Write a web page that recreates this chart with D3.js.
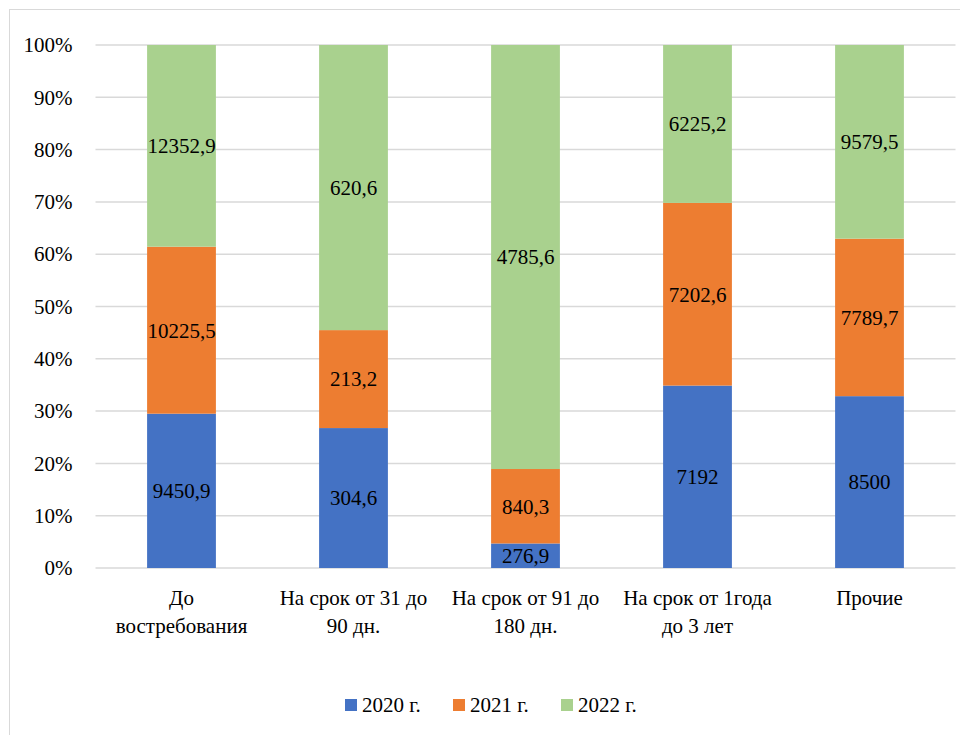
<!DOCTYPE html>
<html>
<head>
<meta charset="utf-8">
<script src="https://cdn.jsdelivr.net/npm/d3@7"></script>
<style>
  body { margin: 0; background: #fff; }
</style>
</head>
<body>
<div id="chart"></div>
<script>
'use strict';

// categories (already split into lines as in the original)
const categories = ['До востребования', 'На срок от 31 до 90 дн.', 'На срок от 91 до 180 дн.', 'На срок от 1года до 3 лет', 'Прочие'];
const categoryLines = [
  ['До', 'востребования'],
  ['На срок от 31 до', '90 дн.'],
  ['На срок от 91 до', '180 дн.'],
  ['На срок от 1года', 'до 3 лет'],
  ['Прочие']
];
const seriesNames = ['2020 г.', '2021 г.', '2022 г.'];
const values2020 = [9450.9, 304.6, 276.9, 7192, 8500];
const values2021 = [10225.5, 213.2, 840.3, 7202.6, 7789.7];
const values2022 = [12352.9, 620.6, 4785.6, 6225.2, 9579.5];
const labels2020 = ['9450,9', '304,6', '276,9', '7192', '8500'];
const labels2021 = ['10225,5', '213,2', '840,3', '7202,6', '7789,7'];
const labels2022 = ['12352,9', '620,6', '4785,6', '6225,2', '9579,5'];
const yTicks = [0, 0.1, 0.2, 0.3, 0.4, 0.5, 0.6, 0.7, 0.8, 0.9, 1];

const colors = ['#4472C4', '#ED7D31', '#A9D18E'];
const allValues = [values2020, values2021, values2022];
const allLabels = [labels2020, labels2021, labels2022];

const font = '"Liberation Serif", Tinos, "Nimbus Roman", FreeSerif, Times, serif';
const fontSize = 21;

const width = 960, height = 735;
const margin = {top: 45, right: 4.5, bottom: 167, left: 95.5};

let svg = d3.select('#chart').append('svg')
    .attr('width', width)
    .attr('height', height)
    .style('display', 'block');

// outer chart border (cropped on right and bottom)
svg.append('rect')
    .attr('x', 9.5).attr('y', 9.5)
    .attr('width', 970).attr('height', 760)
    .attr('fill', '#fff')
    .attr('stroke', '#d9d9d9')
    .attr('stroke-width', 1);

let table = categories.map((c, i) => {
    let row = {category: c};
    seriesNames.forEach((s, j) => row[s] = allValues[j][i]);
    return row;
});

let stacked = d3.stack()
    .keys(seriesNames)
    .offset(d3.stackOffsetExpand)(table);

let x = d3.scaleBand()
    .domain(categories)
    .range([margin.left, width - margin.right])
    .paddingInner(0.6)
    .paddingOuter(0.3);

let y = d3.scaleLinear()
    .domain([0, 1])
    .range([height - margin.bottom, margin.top]);

// gridlines
svg.append('g')
    .selectAll('line')
    .data(yTicks)
    .enter()
    .append('line')
    .attr('x1', margin.left)
    .attr('x2', width - margin.right)
    .attr('y1', d => y(d))
    .attr('y2', d => y(d))
    .attr('stroke', '#d9d9d9')
    .attr('stroke-width', 1.5);

// y axis labels
let yAxis = svg.append('g')
    .attr('transform', 'translate(' + (margin.left - 23) + ',0)')
    .call(d3.axisLeft(y).tickValues(yTicks).tickFormat(d3.format('.0%')).tickSize(0).tickPadding(0));
yAxis.attr('font-family', null).attr('font-size', null);
yAxis.select('.domain').remove();
yAxis.selectAll('text')
    .style('font-family', font)
    .attr('font-size', fontSize)
    .attr('fill', '#000');

// bars
let layers = svg.append('g')
    .selectAll('g')
    .data(stacked)
    .enter()
    .append('g')
    .attr('fill', (d, i) => colors[i]);

layers.selectAll('rect')
    .data(d => d)
    .enter()
    .append('rect')
    .attr('x', d => x(d.data.category))
    .attr('width', x.bandwidth())
    .attr('y', d => y(d[1]))
    .attr('height', d => y(d[0]) - y(d[1]));

// value labels
svg.append('g')
    .selectAll('g')
    .data(stacked)
    .enter()
    .append('g')
    .selectAll('text')
    .data((d, si) => d.map((p, ci) => ({p: p, label: allLabels[si][ci]})))
    .enter()
    .append('text')
    .attr('x', d => x(d.p.data.category) + x.bandwidth() / 2)
    .attr('y', d => y((d.p[0] + d.p[1]) / 2))
    .attr('dy', '0.35em')
    .attr('text-anchor', 'middle')
    .style('font-family', font)
    .attr('font-size', fontSize)
    .attr('fill', '#000')
    .text(d => d.label);

// category labels
let catLabels = svg.append('g')
    .selectAll('text')
    .data(categories)
    .enter()
    .append('text')
    .attr('x', d => x(d) + x.bandwidth() / 2)
    .attr('y', 598)
    .attr('text-anchor', 'middle')
    .style('font-family', font)
    .attr('font-size', fontSize)
    .attr('fill', '#000');

catLabels.selectAll('tspan')
    .data((d, i) => categoryLines[i])
    .enter()
    .append('tspan')
    .attr('x', function() { return d3.select(this.parentNode).attr('x'); })
    .attr('dy', (d, i) => i === 0 ? '0.35em' : 27.5)
    .text(d => d);

// legend
let legend = svg.append('g')
    .selectAll('g')
    .data(seriesNames)
    .enter()
    .append('g')
    .attr('transform', (d, i) => 'translate(' + (345 + i * 108) + ',705)');

legend.append('rect')
    .attr('x', 0).attr('y', -6)
    .attr('width', 12).attr('height', 12)
    .attr('fill', (d, i) => colors[i]);

legend.append('text')
    .attr('x', 17)
    .attr('dy', '0.35em')
    .style('font-family', font)
    .attr('font-size', fontSize)
    .attr('fill', '#000')
    .text(d => d);
</script>
</body>
</html>
